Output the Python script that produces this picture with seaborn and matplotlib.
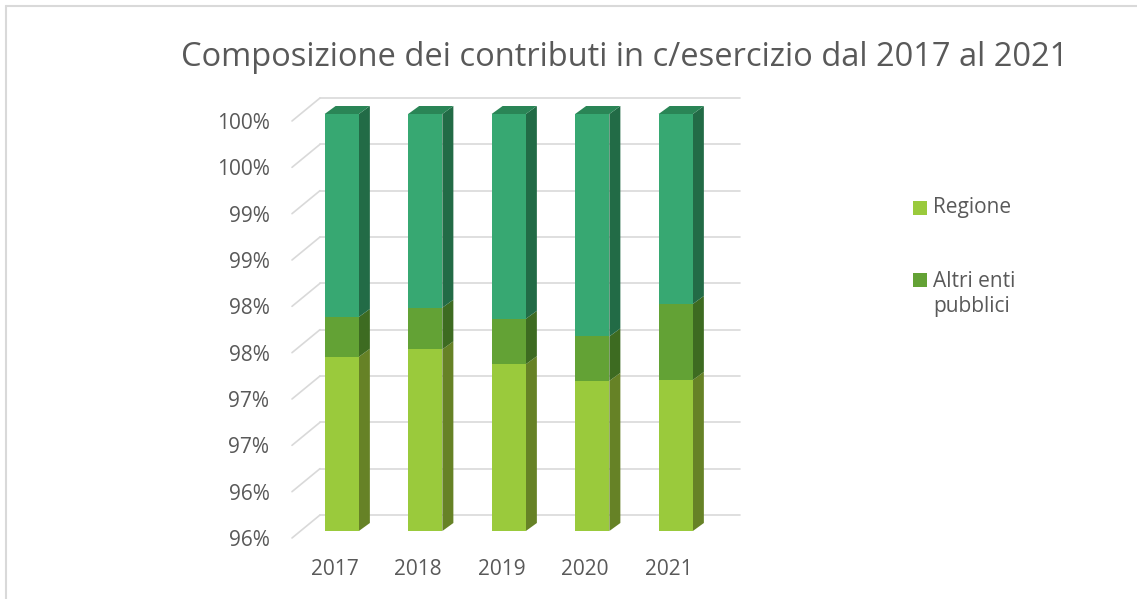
import pandas as pd
import matplotlib
matplotlib.use("Agg")
import matplotlib.pyplot as plt
from matplotlib.patches import Polygon, Rectangle
from matplotlib.lines import Line2D
from matplotlib.transforms import ScaledTranslation
import seaborn as sns

# Data (% of total)
anni = ['2017', '2018', '2019', '2020', '2021']
regione = [97.38, 97.46, 97.30, 97.12, 97.13]
altri_enti = [0.43, 0.45, 0.49, 0.48, 0.82]
altro = [2.19, 2.09, 2.21, 2.40, 2.05]
tick_vals = [95.5, 96.0, 96.5, 97.0, 97.5, 98.0, 98.5, 99.0, 99.5, 100.0]
tick_labels = ['96%', '96%', '97%', '97%', '98%', '98%', '99%', '99%', '100%', '100%']
legend_labels = ['Regione', 'Altri enti\npubblici']
title = 'Composizione dei contributi in c/esercizio dal 2017 al 2021'

# colours: front, side
front = ['#9ACA3C', '#63A235', '#37A872']
side = ['#668226', '#3D6B21', '#226B46']
top_col = '#2A8556'
grid_col = '#D9D9D9'
text_col = '#595959'

df = pd.DataFrame({'anno': anni, 'regione': regione,
                   'altri': altri_enti, 'altro': altro})
df['c1'] = df['regione']
df['c2'] = df['c1'] + df['altri']
df['c3'] = df['c2'] + df['altro']

sns.set_style('white')
plt.rcParams['font.family'] = ['Open Sans', 'DejaVu Sans']

W, H = 1137, 599
fig = plt.figure(figsize=(W / 100, H / 100), dpi=100)
ax = fig.add_axes([300 / W, (H - 531) / H, 417.5 / W, 417 / H])

ymin, ymax = 95.5, 100.0
bar_w = 0.41
# draw stacked bars, top layer first
for col, c in zip(['c3', 'c2', 'c1'], front[::-1]):
    sns.barplot(data=df, x='anno', y=col, color=c, width=bar_w,
                saturation=1, linewidth=0, ax=ax, zorder=2)

ax.set_xlim(-0.5, 4.5)
ax.set_ylim(ymin, ymax)

# pixel -> data units
px_x = 5 / 417.5
px_y = (ymax - ymin) / 417
dx, dy = 11 * px_x, 8 * px_y

# back-wall gridlines with diagonal
for v in tick_vals:
    xb0 = -0.5 + 20 * px_x
    xb1 = -0.5 + 440 * px_x
    yb = v + 16 * px_y
    ax.add_line(Line2D([xb0, xb1], [yb, yb], color=grid_col, lw=1.2,
                       zorder=0, clip_on=False))
    ax.add_line(Line2D([-0.5 - 8 * px_x, xb0], [v - 7 * px_y, yb],
                       color=grid_col, lw=1.2, zorder=0, clip_on=False))

# 3d side / top faces
bars = ax.patches[-5:]
layers = [(df['c1'] * 0 + ymin, df['c1']), (df['c1'], df['c2']), (df['c2'], df['c3'])]
for i, p in enumerate(bars):
    x0 = p.get_x()
    x1 = x0 + p.get_width()
    for k, (b, t) in enumerate(layers):
        b0 = max(b.iloc[i], ymin)
        t0 = t.iloc[i]
        ax.add_patch(Polygon([(x1, b0), (x1 + dx, b0 + dy), (x1 + dx, t0 + dy), (x1, t0)],
                             closed=True, facecolor=side[k], edgecolor='none',
                             zorder=1.5, clip_on=False))
    t0 = layers[-1][1].iloc[i]
    ax.add_patch(Polygon([(x0, t0), (x0 + dx, t0 + dy), (x1 + dx, t0 + dy), (x1, t0)],
                         closed=True, facecolor=top_col, edgecolor='none',
                         zorder=1.5, clip_on=False))

# axes styling
sns.despine(ax=ax, left=True, bottom=True)
ax.set_xlabel('')
ax.set_ylabel('')
ax.set_yticks(tick_vals, tick_labels)
ax.tick_params(axis='both', length=0, labelsize=15, labelcolor=text_col)
ax.tick_params(axis='y', pad=22)
ax.tick_params(axis='x', pad=20)
for lab in ax.get_yticklabels():
    lab.set_transform(lab.get_transform() + ScaledTranslation(0, -0.07, fig.dpi_scale_trans))
for lab in ax.get_xticklabels():
    lab.set_transform(lab.get_transform() + ScaledTranslation(-0.07, 0, fig.dpi_scale_trans))

# title
fig.text(625 / W, 1 - 57 / H, title, ha='center', va='center',
         fontsize=23.5, color=text_col)

# legend drawn by hand
for lab, c, yc in zip(legend_labels, front[:2], [208, 280]):
    fig.add_artist(Rectangle((913 / W, 1 - (yc + 7) / H), 14 / W, 14 / H,
                             transform=fig.transFigure, facecolor=c, edgecolor='none'))
fig.text(933 / W, 1 - 208 / H, legend_labels[0], ha='left', va='center',
         fontsize=15, color=text_col)
fig.text(933 / W, 1 - 294 / H, legend_labels[1], ha='left', va='center',
         fontsize=15, color=text_col, linespacing=1.3)

# chart frame (top and left edges)
fig.add_artist(Line2D([6 / W, 6 / W], [0, 1 - 6 / H], color=grid_col, lw=1.5,
                      transform=fig.transFigure))
fig.add_artist(Line2D([6 / W, 1], [1 - 6 / H, 1 - 6 / H], color=grid_col, lw=1.5,
                      transform=fig.transFigure))

fig.savefig('out.png', dpi=100, facecolor='white')
